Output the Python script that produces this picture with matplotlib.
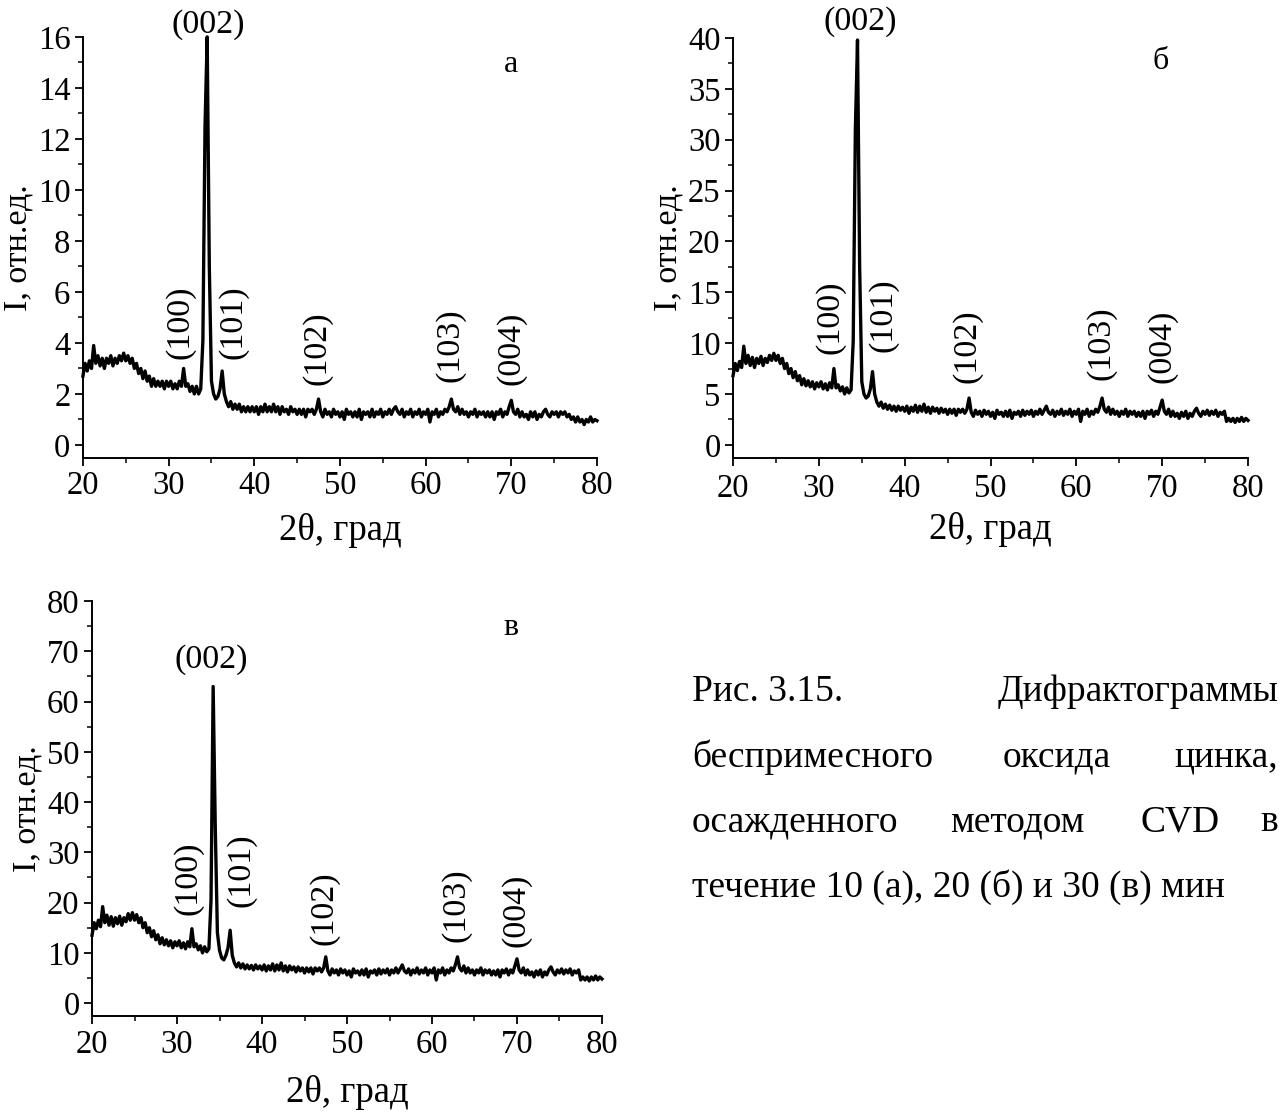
# XRD patterns of undoped ZnO grown by CVD for 10, 20 and 30 min

import numpy as np
import matplotlib
matplotlib.use("Agg")
import matplotlib.pyplot as plt
from matplotlib.ticker import MultipleLocator

plt.rcParams["font.family"] = ["Liberation Serif", "DejaVu Serif"]

# Intensities, 2theta from 20 to 80 deg in 0.25 deg steps
I_a = [
    2.7, 3.2, 2.9, 3.3, 3.0, 3.9, 3.2, 3.5, 3.1, 3.4, 3.0, 3.4, 3.2, 3.5, 3.1, 3.4, 3.2, 3.5, 3.3, 3.6,
    3.3, 3.5, 3.2, 3.4, 3.0, 3.2, 2.8, 3.0, 2.6, 2.9, 2.5, 2.7, 2.3, 2.6, 2.3, 2.5, 2.3, 2.5, 2.2, 2.5,
    2.3, 2.5, 2.2, 2.4, 2.2, 2.5, 2.3, 3.0, 2.3, 2.4, 2.1, 2.3, 2.0, 2.3, 2.0, 2.2, 4.1, 12.5, 16.0, 7.0,
    2.5, 2.0, 1.8, 1.9, 2.2, 2.9, 2.0, 1.7, 1.5, 1.7, 1.4, 1.6, 1.4, 1.6, 1.3, 1.5, 1.3, 1.5, 1.3, 1.5,
    1.3, 1.5, 1.2, 1.5, 1.3, 1.6, 1.3, 1.5, 1.3, 1.6, 1.3, 1.5, 1.2, 1.5, 1.3, 1.4, 1.2, 1.5, 1.3, 1.4,
    1.2, 1.4, 1.2, 1.4, 1.1, 1.4, 1.3, 1.4, 1.2, 1.4, 1.8, 1.3, 1.1, 1.4, 1.2, 1.3, 1.1, 1.4, 1.2, 1.3,
    1.1, 1.3, 1.0, 1.4, 1.2, 1.3, 1.1, 1.3, 1.1, 1.4, 1.0, 1.3, 1.2, 1.3, 1.1, 1.4, 1.1, 1.3, 1.2, 1.4,
    1.1, 1.3, 1.2, 1.4, 1.2, 1.4, 1.5, 1.3, 1.2, 1.4, 1.1, 1.3, 1.2, 1.4, 1.1, 1.3, 1.2, 1.4, 1.1, 1.3,
    1.2, 1.4, 0.9, 1.3, 1.2, 1.4, 1.1, 1.3, 1.2, 1.4, 1.3, 1.5, 1.8, 1.4, 1.3, 1.5, 1.2, 1.4, 1.2, 1.3,
    1.1, 1.3, 1.2, 1.4, 1.1, 1.3, 1.2, 1.3, 1.1, 1.3, 1.1, 1.3, 1.0, 1.3, 1.2, 1.4, 1.1, 1.3, 1.2, 1.5,
    1.75, 1.3, 1.2, 1.4, 1.1, 1.3, 1.1, 1.2, 1.0, 1.3, 1.1, 1.3, 1.0, 1.2, 1.1, 1.3, 1.4, 1.2, 1.1, 1.3,
    1.2, 1.3, 1.1, 1.3, 1.2, 1.3, 1.1, 1.2, 1.0, 1.1, 0.9, 1.1, 0.9, 1.0, 0.8, 1.0, 0.9, 1.1, 0.9, 1.0,
    0.95,
]

I_b = [
    6.8, 8.0, 7.3, 8.2, 7.6, 9.7, 8.0, 8.8, 7.8, 8.6, 7.6, 8.5, 8.0, 8.7, 7.8, 8.5, 8.1, 8.8, 8.3, 9.0,
    8.3, 8.8, 8.0, 8.5, 7.5, 8.0, 7.0, 7.5, 6.6, 7.2, 6.3, 6.8, 5.9, 6.5, 5.8, 6.3, 5.7, 6.2, 5.5, 6.1,
    5.7, 6.2, 5.5, 6.0, 5.4, 6.1, 5.6, 7.5, 5.6, 5.9, 5.3, 5.7, 5.0, 5.6, 5.1, 5.4, 10.2, 31.0, 39.8, 17.5,
    6.2, 5.0, 4.6, 4.8, 5.5, 7.2, 5.0, 4.2, 3.8, 4.2, 3.6, 4.0, 3.5, 3.9, 3.4, 3.8, 3.3, 3.8, 3.4, 3.7,
    3.3, 3.8, 3.1, 3.7, 3.3, 3.9, 3.2, 3.8, 3.3, 4.0, 3.2, 3.7, 3.1, 3.7, 3.3, 3.6, 3.1, 3.6, 3.2, 3.5,
    3.0, 3.5, 3.1, 3.5, 2.9, 3.5, 3.2, 3.5, 3.1, 3.5, 4.6, 3.2, 2.8, 3.4, 3.0, 3.3, 2.8, 3.4, 3.0, 3.3,
    2.8, 3.2, 2.6, 3.4, 3.0, 3.2, 2.8, 3.3, 2.8, 3.4, 2.6, 3.2, 3.0, 3.3, 2.8, 3.4, 2.9, 3.3, 3.0, 3.4,
    2.8, 3.3, 3.0, 3.5, 3.0, 3.4, 3.8, 3.2, 3.0, 3.4, 2.8, 3.3, 3.0, 3.5, 2.9, 3.3, 3.0, 3.5, 2.8, 3.3,
    3.0, 3.5, 2.3, 3.3, 3.0, 3.5, 2.8, 3.3, 3.0, 3.5, 3.2, 3.8, 4.6, 3.5, 3.2, 3.7, 3.0, 3.5, 3.0, 3.3,
    2.8, 3.3, 3.0, 3.5, 2.8, 3.3, 3.0, 3.3, 2.8, 3.2, 2.8, 3.3, 2.6, 3.3, 3.0, 3.4, 2.8, 3.3, 3.0, 3.7,
    4.4, 3.3, 3.0, 3.5, 2.8, 3.3, 2.8, 3.1, 2.6, 3.2, 2.8, 3.3, 2.6, 3.1, 2.8, 3.3, 3.6, 3.1, 2.8, 3.3,
    3.0, 3.4, 2.9, 3.3, 3.0, 3.4, 2.8, 3.2, 3.0, 3.3, 2.3, 2.6, 2.3, 2.6, 2.2, 2.6, 2.3, 2.7, 2.3, 2.6,
    2.4,
]

I_c = [
    13.5, 16.0, 14.8, 16.5, 15.2, 19.2, 16.0, 17.5, 15.5, 17.2, 15.3, 17.0, 15.8, 17.3, 15.5, 17.0, 16.2, 17.8, 16.5, 18.0,
    16.5, 17.6, 16.0, 17.0, 15.0, 16.0, 14.0, 15.0, 13.2, 14.4, 12.6, 13.6, 11.8, 13.0, 11.6, 12.6, 11.4, 12.4, 11.0, 12.2,
    11.4, 12.4, 11.0, 12.0, 10.8, 12.2, 11.2, 14.8, 11.2, 11.8, 10.6, 11.4, 10.0, 11.2, 10.2, 10.8, 20.5, 63.0, 35.0, 14.0,
    10.5, 9.0, 8.6, 9.5, 11.0, 14.5, 9.5, 8.0, 7.2, 8.0, 7.0, 7.8, 6.8, 7.6, 6.8, 7.5, 6.6, 7.6, 6.8, 7.4,
    6.6, 7.6, 6.4, 7.4, 6.6, 7.8, 6.4, 7.6, 6.6, 8.0, 6.4, 7.4, 6.2, 7.4, 6.6, 7.2, 6.2, 7.2, 6.4, 7.0,
    6.0, 7.0, 6.2, 7.0, 5.8, 7.0, 6.4, 7.0, 6.2, 7.0, 9.2, 6.4, 5.6, 6.8, 6.0, 6.6, 5.6, 6.8, 6.0, 6.6,
    5.6, 6.4, 5.2, 6.8, 6.0, 6.4, 5.6, 6.6, 5.6, 6.8, 5.2, 6.4, 6.0, 6.6, 5.6, 6.8, 5.8, 6.6, 6.0, 6.8,
    5.6, 6.6, 6.0, 7.0, 6.0, 6.8, 7.6, 6.4, 6.0, 6.8, 5.6, 6.6, 6.0, 7.0, 5.8, 6.6, 6.0, 7.0, 5.6, 6.6,
    6.0, 7.0, 4.6, 6.6, 6.0, 7.0, 5.6, 6.6, 6.0, 7.0, 6.4, 7.6, 9.2, 7.0, 6.4, 7.4, 6.0, 7.0, 6.0, 6.6,
    5.6, 6.6, 6.0, 7.0, 5.6, 6.6, 6.0, 6.6, 5.6, 6.4, 5.6, 6.6, 5.2, 6.6, 6.0, 6.8, 5.6, 6.6, 6.0, 7.4,
    8.8, 6.6, 6.0, 7.0, 5.6, 6.6, 5.6, 6.2, 5.2, 6.4, 5.6, 6.6, 5.2, 6.2, 5.6, 6.6, 7.2, 6.2, 5.6, 6.6,
    6.0, 6.8, 5.8, 6.6, 6.0, 6.8, 5.6, 6.4, 6.0, 6.6, 4.6, 5.2, 4.6, 5.2, 4.4, 5.2, 4.6, 5.4, 4.6, 5.2,
    4.8,
]

two_theta = np.linspace(20, 80, len(I_a))

hkl = ["(100)", "(101)", "(102)", "(103)", "(004)"]
hkl_x = [31.3, 37.5, 47.3, 62.85, 69.95]

# label heights for each panel
hkl_y_a = [4.8, 4.8, 3.8, 3.9, 3.8]
hkl_y_b = [12.5, 12.7, 9.7, 10.0, 9.7]
hkl_y_c = [24.9, 26.5, 18.9, 19.5, 18.5]

fig = plt.figure(figsize=(12.8, 11.15), dpi=100)


def panel(rect, y, ylim, major, minor, letter, letter_xy, top_xy, hkl_y, xpad, xlpad):
    ax = fig.add_axes(rect)
    ax.plot(two_theta, y, color="black", lw=2.4, clip_on=False)
    ax.set_xlim(20, 80)
    ax.set_ylim(*ylim)
    ax.xaxis.set_major_locator(MultipleLocator(10))
    ax.xaxis.set_minor_locator(MultipleLocator(5))
    ax.yaxis.set_major_locator(MultipleLocator(major))
    ax.yaxis.set_minor_locator(MultipleLocator(minor))
    for s in ["top", "right"]:
        ax.spines[s].set_visible(False)
    for s in ["left", "bottom"]:
        ax.spines[s].set_linewidth(1.4)
    ax.tick_params(which="major", direction="out", length=6, width=1.3, labelsize=23.5)
    ax.tick_params(which="minor", direction="out", length=3.5, width=1.1)
    ax.tick_params(axis="x", pad=xpad)
    ax.tick_params(axis="y", pad=3)
    ax.set_xlabel("2θ, град", fontsize=26.5, labelpad=xlpad)
    ax.set_ylabel("I, отн.ед.", fontsize=24.5, labelpad=3)
    ax.text(letter_xy[0], letter_xy[1], letter, fontsize=23, ha="center", va="center")
    ax.text(top_xy[0], top_xy[1], "(002)", fontsize=24.5, ha="center", va="center")
    for lab, hx, hy in zip(hkl, hkl_x, hkl_y):
        ax.text(hx, hy, lab, fontsize=24.5, rotation=90, ha="center", va="center")
    return ax


panel([0.0648, 0.5895, 0.4016, 0.3774], I_a, (-0.5, 16), 2, 1,
      "а", (70.0, 14.9), (34.6, 16.5), hkl_y_a, 3, 9)
panel([0.5727, 0.5892, 0.4023, 0.3767], I_b, (-1.3, 40), 5, 2.5,
      "б", (69.8, 37.7), (34.8, 41.6), hkl_y_b, 5, 6)
panel([0.0719, 0.0891, 0.3984, 0.3718], I_c, (-2.5, 80), 10, 5,
      "в", (69.3, 74.8), (34.0, 68.3), hkl_y_c, 4, 11)

# caption, justified word by word as in the source page
caption_words = [
    [("Рис. 3.15.", 692, "left"), ("Дифрактограммы", 1278, "right")],
    [("беспримесного", 692, "left"), ("оксида", 1003, "left"), ("цинка,", 1278, "right")],
    [("осажденного", 692, "left"), ("методом", 950, "left"), ("CVD", 1140, "left"), ("в", 1278, "right")],
    [("течение 10 (а), 20 (б) и 30 (в) мин", 692, "left")],
]
caption_y = [692, 757, 822, 887]
for words, ypix in zip(caption_words, caption_y):
    for w, xpix, ha in words:
        fig.text(xpix / 1280, 1 - ypix / 1115, w, fontsize=27, ha=ha, va="center")

fig.savefig("out.png", dpi=100)
